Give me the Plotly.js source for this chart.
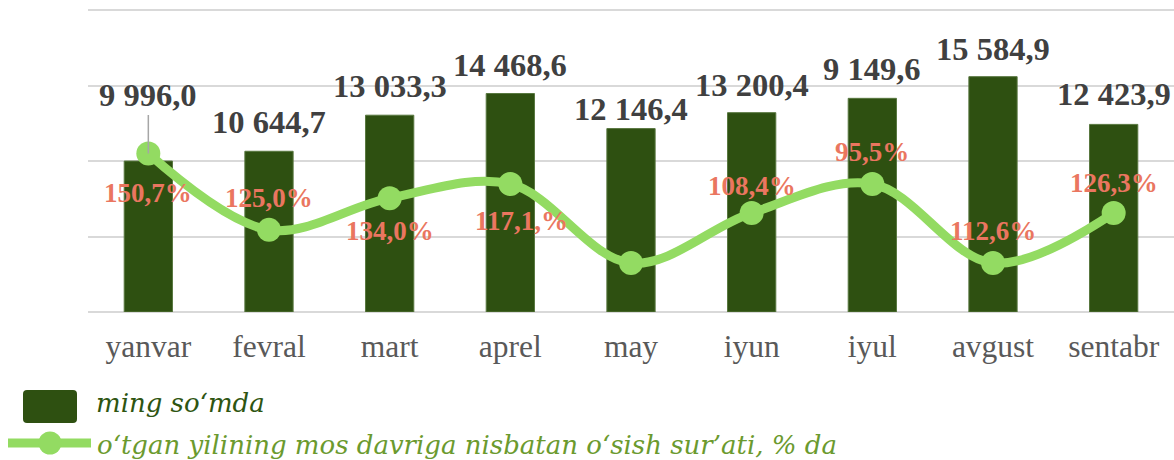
<!DOCTYPE html>
<html>
<head>
<meta charset="utf-8">
<script src="https://cdn.plot.ly/plotly-3.0.1.min.js"></script>
<style>html,body{margin:0;padding:0;background:#fff;}#chart{width:1174px;height:460px;}</style>
</head>
<body>
<div id="chart"></div>
<script>
// ---- data ----
const months = ['yanvar','fevral','mart','aprel','may','iyun','iyul','avgust','sentabr'];
// bar heights (ming so'mda)
const barValues = [9996.0, 10644.7, 13033.3, 14468.6, 12146.4, 13200.4, 14149.6, 15584.9, 12423.9];
// bar labels as printed
const barLabels = ['9 996,0','10 644,7','13 033,3','14 468,6','12 146,4','13 200,4','9 149,6','15 584,9','12 423,9'];
// line point heights (secondary scale)
const lineValues = [142.5, 117.2, 127.7, 132.4, 106.2, 122.8, 132.4, 106.2, 122.8];
// line labels as printed
const lineLabels = ['150,7%','125,0%','134,0%','117,1,%','','108,4%','95,5%','112,6%','126,3%'];
const seriesNames = ['ming so‘mda', 'o‘tgan yilining mos davriga nisbatan o‘sish sur’ati, % da'];

// ---- label offsets (style) ----
const barLabelShift = [0, 29, 29, 29, 20, 28, 29, 28, 30];
const lineLabelShiftY = [-40, 32, -33, -37, 0, 27, 32, 32, 30];
const lineLabelShiftX = [0, 0, 0, 11, 0, 0, 0, 0, 0];

const BAR_COLOR = '#2E5011';
const LINE_COLOR = '#93DB62';
const PCT_COLOR = '#EA7660';
const VAL_COLOR = '#404040';
const SERIF = 'Liberation Serif, Times New Roman, serif';
const LEG_FONT = 'DejaVu Serif, serif';

const traces = [
  {
    type: 'bar', x: months, y: barValues, name: seriesNames[0],
    marker: {color: BAR_COLOR, line: {color: '#58773F', width: 1}},
    hoverinfo: 'none', showlegend: false
  },
  {
    type: 'scatter', mode: 'lines+markers', x: months, y: lineValues, yaxis: 'y2',
    name: seriesNames[1],
    line: {color: LINE_COLOR, width: 9, shape: 'spline', smoothing: 1},
    marker: {color: LINE_COLOR, size: 24},
    hoverinfo: 'none', showlegend: false
  }
];

const annotations = [];
months.forEach((m, i) => {
  if (i === 0) {
    annotations.push({
      x: m, y: lineValues[i], xref: 'x', yref: 'y2', text: barLabels[i],
      showarrow: true, arrowhead: 0, arrowwidth: 1.5, arrowcolor: '#A6A6A6',
      ax: 0, ay: -58, standoff: 0,
      font: {family: SERIF, size: 32.5, color: VAL_COLOR, weight: 'bold'}
    });
  } else {
    annotations.push({
      x: m, y: barValues[i], xref: 'x', yref: 'y', text: barLabels[i],
      showarrow: false, yanchor: 'middle', yshift: barLabelShift[i],
      font: {family: SERIF, size: 32.5, color: VAL_COLOR, weight: 'bold'}
    });
  }
  if (lineLabels[i]) {
    annotations.push({
      x: m, y: lineValues[i], xref: 'x', yref: 'y2', text: lineLabels[i],
      showarrow: false, yanchor: 'middle', yshift: lineLabelShiftY[i], xshift: lineLabelShiftX[i],
      font: {family: SERIF, size: 27, color: PCT_COLOR, weight: 'bold'}
    });
  }
});

// manual legend text
annotations.push({
  xref: 'paper', yref: 'paper', x: 0, y: 0, xanchor: 'left', yanchor: 'middle',
  xshift: 6, yshift: -91, showarrow: false, text: seriesNames[0],
  font: {family: LEG_FONT, size: 26, color: '#2E5511', style: 'italic'}
});
annotations.push({
  xref: 'paper', yref: 'paper', x: 0, y: 0, xanchor: 'left', yanchor: 'middle',
  xshift: 7, yshift: -133, showarrow: false, text: seriesNames[1],
  font: {family: LEG_FONT, size: 26, color: '#6B9A2E', style: 'italic'}
});

const shapes = [
  { // bar legend symbol (rounded rect)
    type: 'path', xref: 'paper', yref: 'paper', xsizemode: 'pixel', ysizemode: 'pixel',
    xanchor: 0, yanchor: 0,
    path: 'M -61 -78 L -15 -78 Q -11 -78 -11 -82 L -11 -107 Q -11 -111 -15 -111 L -61 -111 Q -65 -111 -65 -107 L -65 -82 Q -65 -78 -61 -78 Z',
    fillcolor: BAR_COLOR, line: {width: 0}
  },
  { // line legend symbol
    type: 'line', xref: 'paper', yref: 'paper', xsizemode: 'pixel', ysizemode: 'pixel',
    xanchor: 0, yanchor: 0, x0: -80, x1: 3, y0: -131, y1: -131,
    line: {color: LINE_COLOR, width: 9}
  },
  {
    type: 'circle', xref: 'paper', yref: 'paper', xsizemode: 'pixel', ysizemode: 'pixel',
    xanchor: 0, yanchor: 0, x0: -49.5, x1: -26.5, y0: -119.5, y1: -142.5,
    fillcolor: LINE_COLOR, line: {width: 0}
  }
];

const layout = {
  width: 1174, height: 460,
  margin: {l: 88, r: 0, t: 4, b: 148},
  paper_bgcolor: '#ffffff', plot_bgcolor: '#ffffff',
  showlegend: false,
  bargap: 0.6,
  xaxis: {
    type: 'category', range: [-0.5, 8.5], showgrid: false, zeroline: false, showline: false,
    ticks: '', ticklabelstandoff: 12,
    tickfont: {family: SERIF, size: 31.5, color: '#595959'},
    fixedrange: true
  },
  yaxis: {
    range: [0, 20397], tickvals: [0, 5000, 10000, 15000, 20000], showticklabels: false, ticks: '',
    showgrid: true, gridcolor: '#D9D9D9', gridwidth: 2,
    zeroline: true, zerolinecolor: '#D9D9D9', zerolinewidth: 2,
    fixedrange: true
  },
  yaxis2: {
    range: [90, 192], overlaying: 'y', side: 'right', visible: false, fixedrange: true
  },
  annotations: annotations,
  shapes: shapes
};

Plotly.newPlot('chart', traces, layout, {displayModeBar: false, staticPlot: true});
</script>
</body>
</html>
